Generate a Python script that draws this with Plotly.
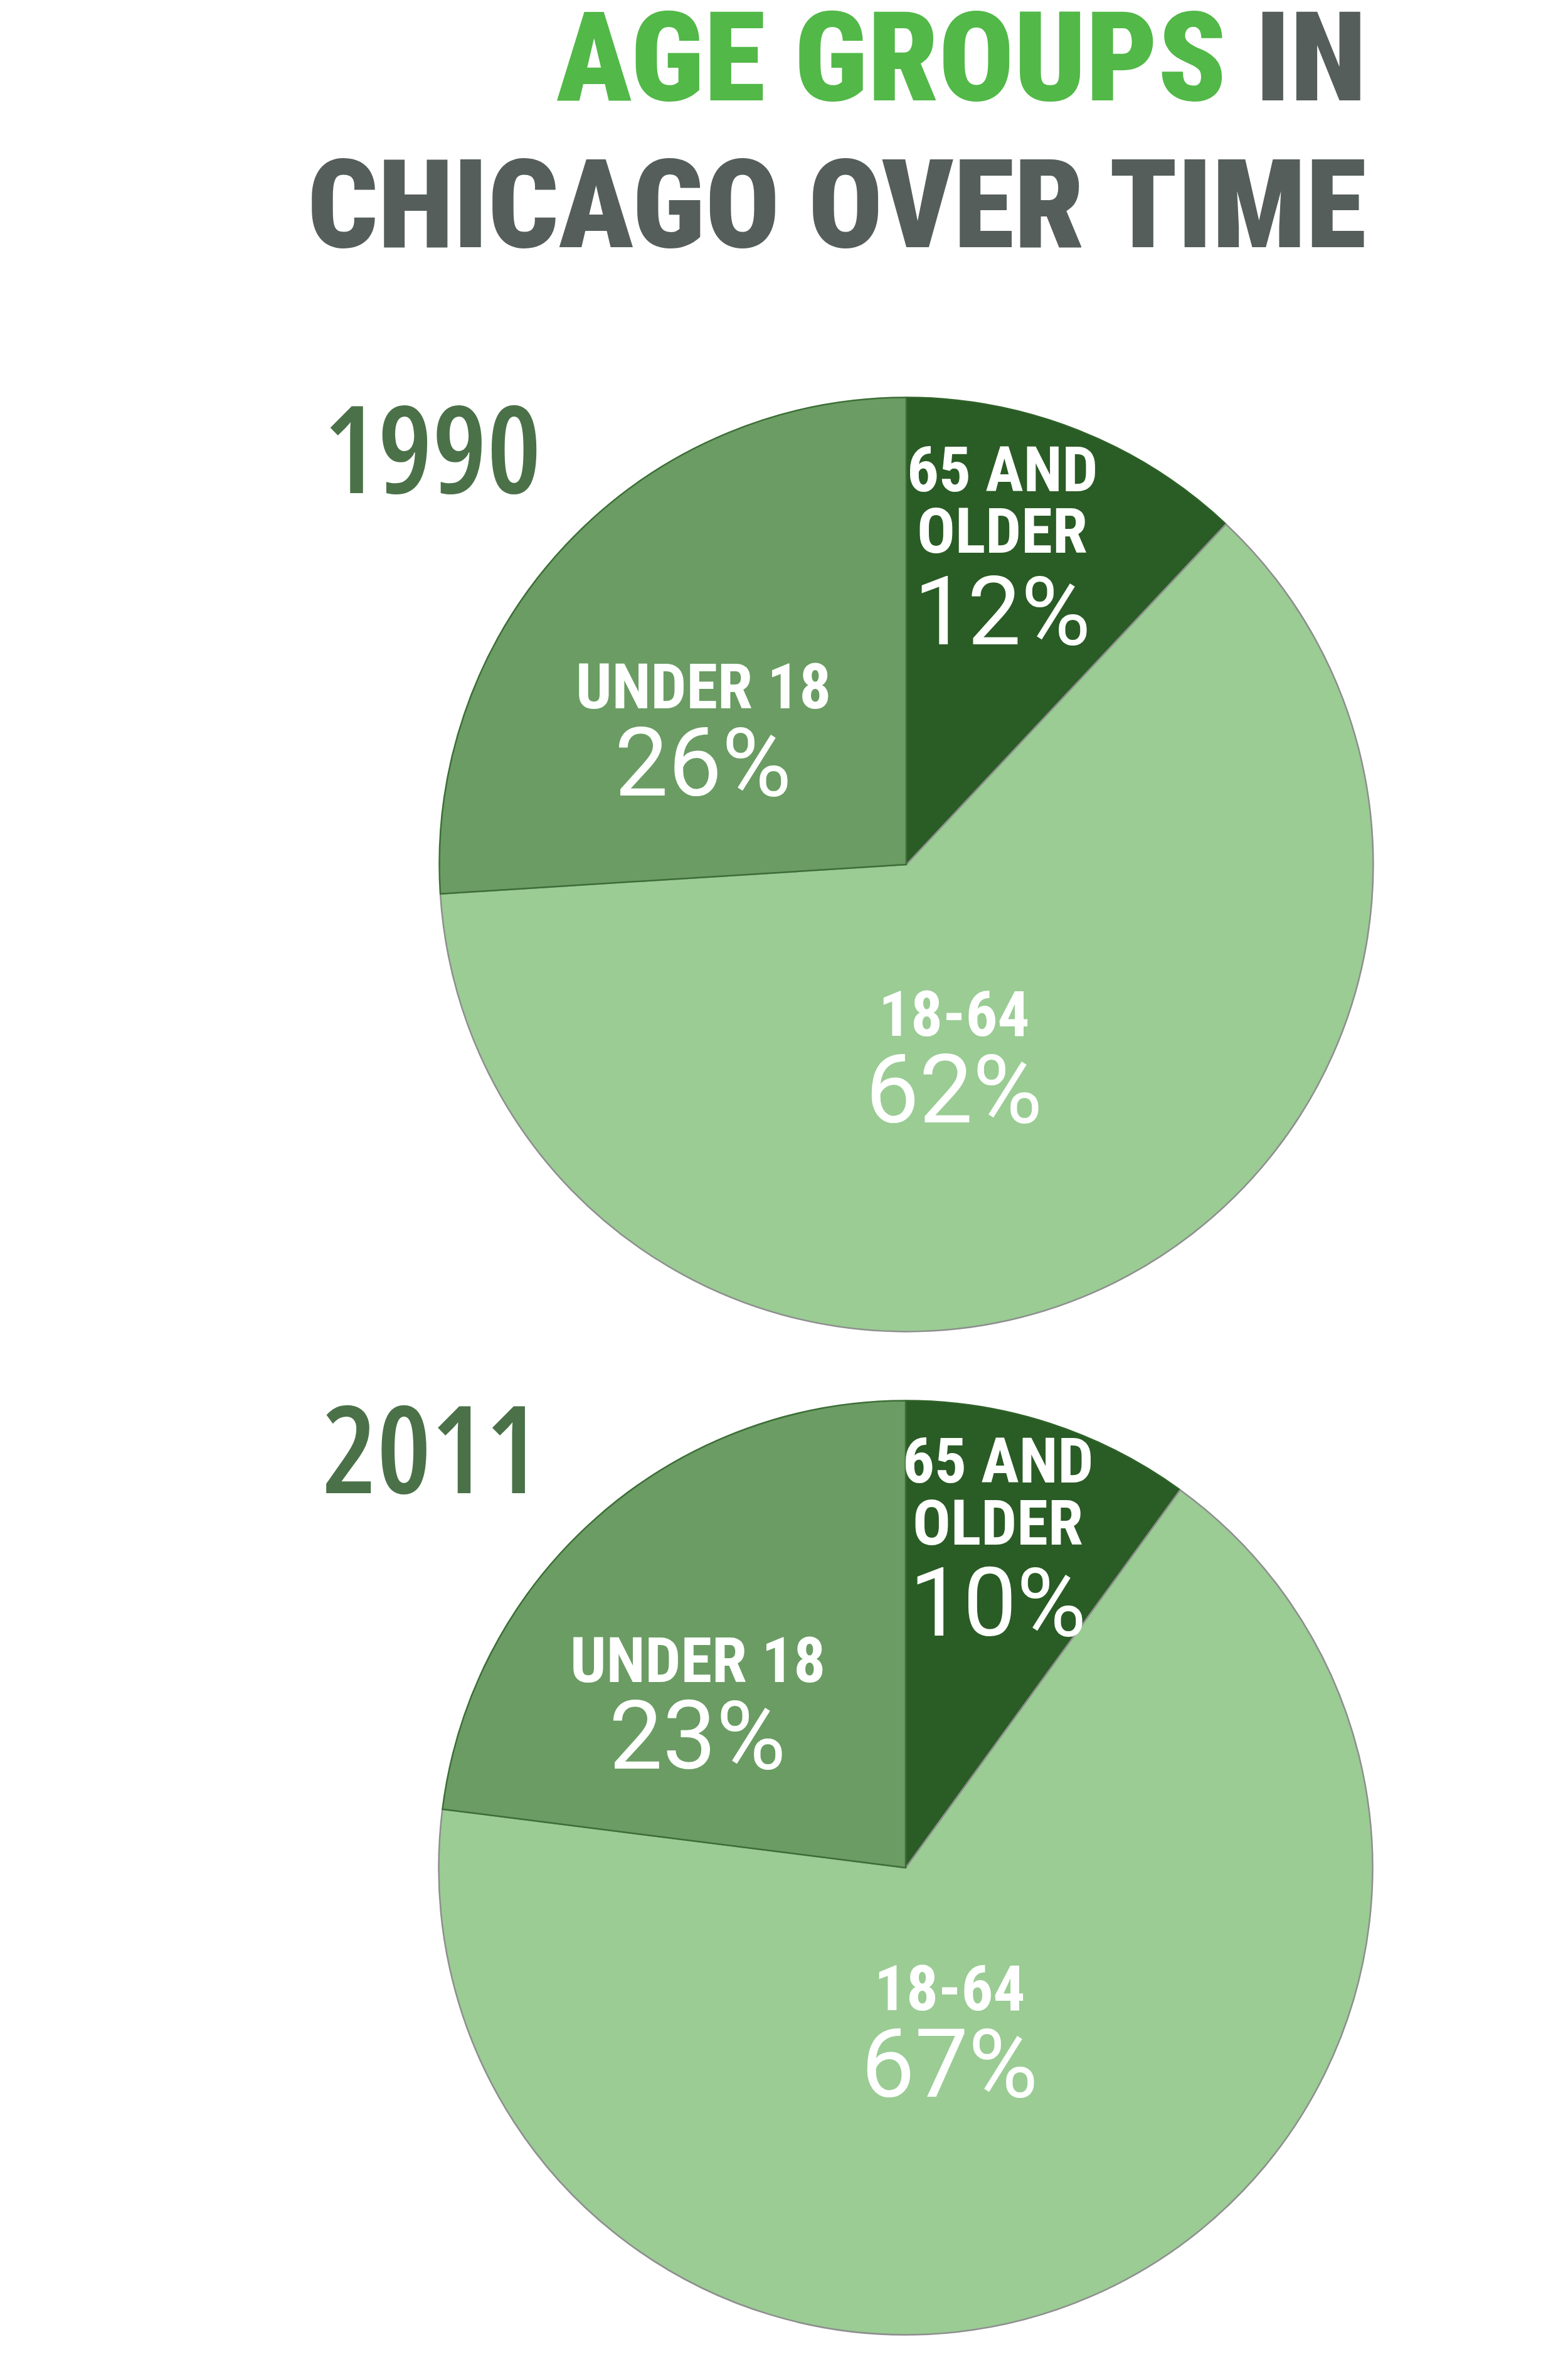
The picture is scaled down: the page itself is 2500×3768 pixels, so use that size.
import plotly.graph_objects as go

W, H = 2500, 3768

# ---- data ----
categories = ["65 AND OLDER", "18-64", "UNDER 18"]
years = ["1990", "2011"]
values_1990 = [12, 62, 26]
values_2011 = [10, 67, 23]
label_lines = {"65 AND OLDER": ["65 AND", "OLDER"], "18-64": ["18-64"], "UNDER 18": ["UNDER 18"]}
title_green = "AGE GROUPS"
title_rest1 = " IN"
title_line2 = "CHICAGO OVER TIME"

# ---- style ----
slice_colors = ["#2a5c25", "#9acc94", "#6a9c63"]
edge_colors = ["#2f6229", "#8e8e8e", "#3c6e36"]
year_color = "#4b7149"
green = "#52b848"
gray = "#555e5b"
COND = "Roboto Condensed, Open Sans Condensed, sans-serif"
LIGHT = "Roboto, Open Sans, sans-serif"
OPEN = "Open Sans, sans-serif"

# pie geometry (pixels)
pies = [
    dict(year="1990", values=values_1990, cx=1437, cy=1370, r=740),
    dict(year="2011", values=values_2011, cx=1436, cy=2969, r=740),
]
# label block positions: (x center, y center of first line)
label_pos = [
    {"65 AND OLDER": (1590, 740), "UNDER 18": (1113, 1087), "18-64": (1513, 1608)},
    {"65 AND OLDER": (1583, 2320), "UNDER 18": (1104, 2638), "18-64": (1506, 3161)},
]
line_step = 99
pct_step = 121
year_pos = [(506, 703), (504, 2297)]

def px(x, y):
    return x / W, 1 - y / H

fig = go.Figure()
annotations = []
for i, p in enumerate(pies):
    # plotly insets the pie slightly inside its domain; compensate
    rr = p["r"] * 1.006
    x0, y0 = px(p["cx"] - rr, p["cy"] + rr)
    x1, y1 = px(p["cx"] + rr, p["cy"] - rr)
    fig.add_trace(go.Pie(
        labels=categories,
        values=p["values"],
        sort=False,
        direction="clockwise",
        rotation=0,
        marker=dict(colors=slice_colors, line=dict(color=edge_colors, width=2.5)),
        textinfo="none",
        hoverinfo="label+percent",
        showlegend=False,
        domain=dict(x=[x0, x1], y=[y0, y1]),
    ))
    yx, yy = px(*year_pos[i])
    annotations.append(dict(
        x=yx, y=yy, xref="paper", yref="paper", xanchor="left", yanchor="middle",
        text="<span style='font-stretch:75%%'>%s</span>" % p["year"], showarrow=False,
        font=dict(family=OPEN, size=194, color=year_color, weight=600),
    ))
    for cat, val in zip(categories, p["values"]):
        lx, ly = label_pos[i][cat]
        yline = ly
        for k, ln in enumerate(label_lines[cat]):
            if k > 0:
                yline += line_step
            ax, ay = px(lx, yline)
            annotations.append(dict(
                x=ax, y=ay, xref="paper", yref="paper", xanchor="center", yanchor="middle",
                text=ln, showarrow=False,
                font=dict(family=COND, size=101, color="white", weight=700),
            ))
        ax, ay = px(lx, yline + pct_step + (7 if len(label_lines[cat]) > 1 else 0))
        annotations.append(dict(
            x=ax, y=ay, xref="paper", yref="paper", xanchor="center", yanchor="middle",
            text="%d%%" % val, showarrow=False,
            font=dict(family=LIGHT, size=152, color="white", weight=400),
        ))

# title
tx, ty = px(2172, 84)
annotations.append(dict(
    x=tx, y=ty, xref="paper", yref="paper", xanchor="right", yanchor="middle",
    text="<span style='color:%s'>%s</span>%s" % (green, title_green, title_rest1),
    showarrow=False, font=dict(family=COND, size=199, color=gray, weight=900),
))
tx, ty = px(2172, 318)
annotations.append(dict(
    x=tx, y=ty, xref="paper", yref="paper", xanchor="right", yanchor="middle",
    text=title_line2,
    showarrow=False, font=dict(family=COND, size=197, color=gray, weight=900),
))

fig.update_layout(
    width=W, height=H,
    margin=dict(l=0, r=0, t=0, b=0),
    paper_bgcolor="white", plot_bgcolor="white",
    annotations=annotations,
)
fig.write_html("out.html")
